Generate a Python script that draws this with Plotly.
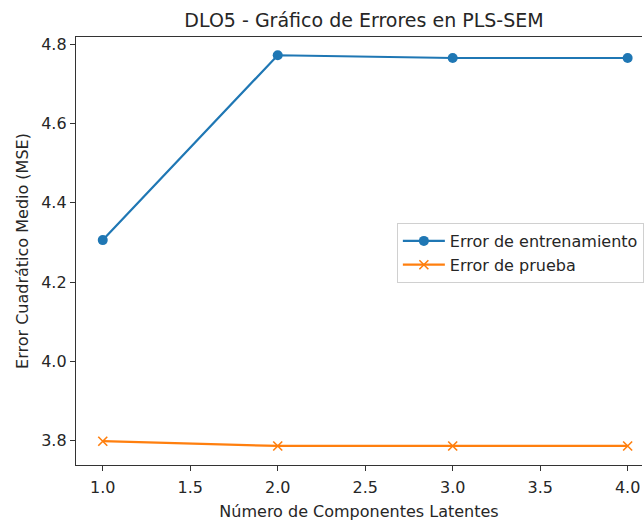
import plotly.graph_objects as go

componentes = [1, 2, 3, 4]
error_entrenamiento = [4.306, 4.772, 4.765, 4.765]
error_prueba = [3.799, 3.787, 3.787, 3.787]
x_ticks = [1.0, 1.5, 2.0, 2.5, 3.0, 3.5, 4.0]
y_ticks = [3.8, 4.0, 4.2, 4.4, 4.6, 4.8]

BLUE = "#1f77b4"
ORANGE = "#ff7f0e"
FONT = "DejaVu Sans"
TXT = "#262626"

fig = go.Figure()
fig.add_trace(go.Scatter(
    x=componentes, y=error_entrenamiento, mode="lines+markers",
    name="Error de entrenamiento", legendgroup="a",
    line=dict(color=BLUE, width=2.2),
    marker=dict(symbol="circle", size=10, color=BLUE),
))
fig.add_trace(go.Scatter(
    x=componentes, y=error_prueba, mode="lines+markers",
    name="Error de prueba", legendgroup="b",
    line=dict(color=ORANGE, width=2.2),
    marker=dict(symbol="x-thin", size=9, color=ORANGE, line=dict(color=ORANGE, width=1.6)),
))

W, H = 644, 522
L, R, T, B = 76, 0, 37, 57
PW, PH = W - L - R, H - T - B

fig.update_layout(
    width=W, height=H,
    margin=dict(l=L, r=R, t=T, b=B),
    paper_bgcolor="white", plot_bgcolor="white",
    font=dict(family=FONT, size=16, color=TXT),
    title=dict(text="DLO5 - Gráfico de Errores en PLS-SEM", x=364 / W, xanchor="center",
               y=1 - 20 / H, yanchor="middle", font=dict(size=19, color=TXT)),
    showlegend=True,
    legend=dict(x=(398 - L) / PW, y=(465 - 223) / PH, xanchor="left", yanchor="top",
                bgcolor="rgba(255,255,255,0.8)", bordercolor="#d0d0d0", borderwidth=1,
                font=dict(size=16, color=TXT), tracegroupgap=0, itemwidth=42,
                entrywidth=200, entrywidthmode="pixels"),
)
fig.update_xaxes(
    range=[0.847, 4.082], tickvals=x_ticks, ticktext=[f"{v:.1f}" for v in x_ticks],
    showgrid=False, zeroline=False, showline=True, linecolor="#333", linewidth=1.3,
    mirror=True, ticks="outside", ticklen=5, tickwidth=1.2, tickcolor="#333",
    ticklabelstandoff=3,
    title=dict(text="Número de Componentes Latentes", font=dict(size=16), standoff=9),
)
fig.update_yaxes(
    range=[3.739, 4.818], tickvals=y_ticks, ticktext=[f"{v:.1f}" for v in y_ticks],
    showgrid=False, zeroline=False, showline=True, linecolor="#333", linewidth=1.3,
    ticks="outside", ticklen=5, tickwidth=1.2, tickcolor="#333",
    title=dict(text="Error Cuadrático Medio (MSE)", font=dict(size=16), standoff=8),
)

# remove the browser's default page margin so the 644x522 figure fills the window exactly
fig.write_html(
    "out.html",
    config={"displayModeBar": False},
    post_script="document.body.style.margin='0';document.body.style.overflow='hidden';",
)
